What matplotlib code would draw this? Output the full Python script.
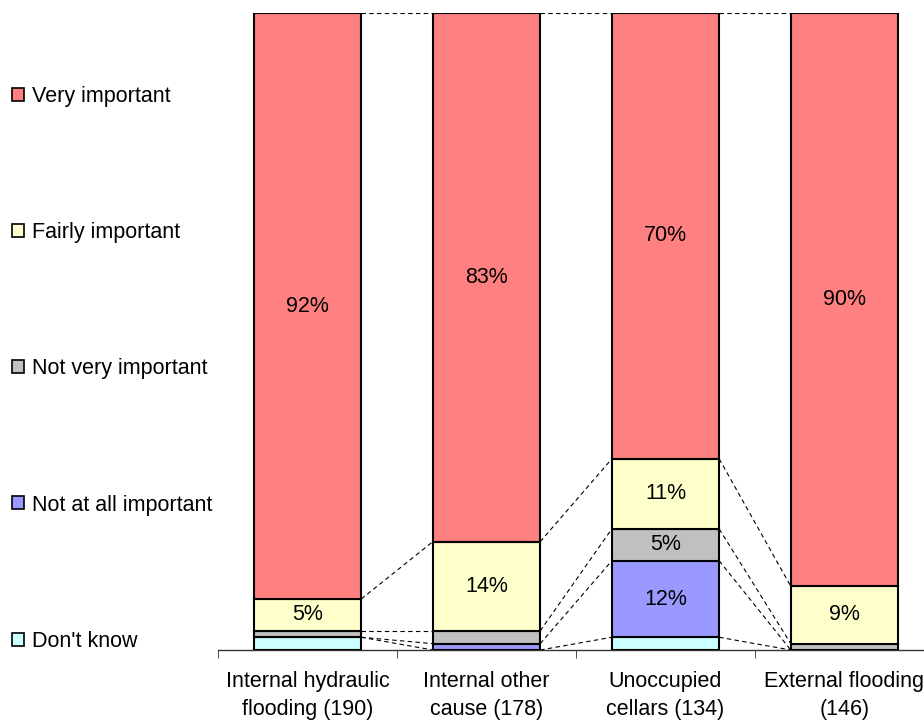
import matplotlib
matplotlib.use("Agg")
import matplotlib.pyplot as plt
import numpy as np
from matplotlib.patches import Patch

plt.rcParams['font.family'] = ['Liberation Sans', 'DejaVu Sans']

categories = ["Internal hydraulic\nflooding (190)", "Internal other\ncause (178)",
              "Unoccupied\ncellars (134)", "External flooding\n(146)"]
series_names = ["Don't know", "Not at all important", "Not very important",
                "Fairly important", "Very important"]
dont_know = [2, 0, 2, 0]
not_at_all = [0, 1, 12, 0]
not_very = [1, 2, 5, 1]
fairly = [5, 14, 11, 9]
very = [92, 83, 70, 90]
series_values = [dont_know, not_at_all, not_very, fairly, very]
colors = ["#CCFFFF", "#9999FF", "#C0C0C0", "#FFFFCC", "#FF8080"]

FS = 15.5

fig = plt.figure(figsize=(9.24, 7.22), dpi=100)
ax = fig.add_axes([218/924, 72/722, 716/924, 637/722])

x = np.arange(len(categories))
width = 0.6
bottom = np.zeros(len(categories))
tops = []
for name, vals, col in zip(series_names, series_values, colors):
    vals = np.array(vals, dtype=float)
    ax.bar(x, vals, width, bottom=bottom, color=col, edgecolor='black',
           linewidth=1.5, label=name, zorder=3)
    for xi, v, b in zip(x, vals, bottom):
        if v >= 5:
            ax.text(xi, b + v / 2, f"{int(v)}%", ha='center', va='center',
                    fontsize=FS, zorder=4)
    bottom = bottom + vals
    tops.append(bottom.copy())

# series lines
for t in tops:
    for i in range(len(categories) - 1):
        ax.plot([x[i] + width / 2, x[i + 1] - width / 2], [t[i], t[i + 1]],
                color='black', lw=0.8, dashes=(4, 3), zorder=2)

ax.set_xlim(-0.5, 3.5)
ax.set_ylim(0, 100)
for s in ['top', 'right', 'left']:
    ax.spines[s].set_visible(False)
ax.spines['bottom'].set_color('#333333')
ax.spines['bottom'].set_linewidth(1.0)
ax.set_yticks([])
ax.set_xticks(x)
ax.set_xticklabels(categories, fontsize=FS, linespacing=1.45)
ax.tick_params(axis='x', which='major', length=0, pad=15)
ax.set_xticks(np.arange(-0.5, 4.0, 1.0), minor=True)
ax.tick_params(axis='x', which='minor', length=6, direction='out', color='#333333')

handles = [Patch(facecolor=c, edgecolor='black', linewidth=1.2) for c in colors][::-1]
labels = series_names[::-1]
fig.legend(handles, labels, loc='upper left', bbox_to_anchor=(12/924, 1 - 86/722),
           frameon=False, fontsize=FS, handlelength=0.55, handleheight=0.55,
           handletextpad=0.4, labelspacing=5.35, borderpad=0, borderaxespad=0)

fig.savefig("out.png", dpi=100)
